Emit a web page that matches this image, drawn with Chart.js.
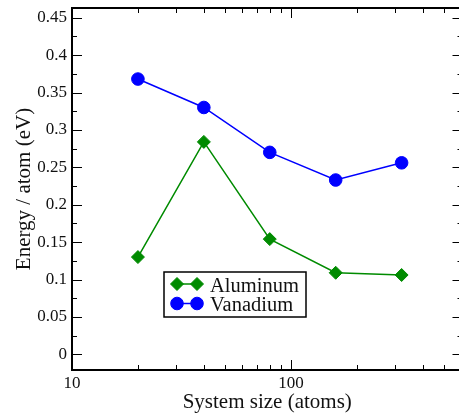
<!DOCTYPE html>
<html>
<head>
<meta charset="utf-8">
<script src="https://cdn.jsdelivr.net/npm/chart.js@4.4.0/dist/chart.umd.min.js"></script>
<style>
  html, body { margin: 0; padding: 0; background: #fff; overflow: hidden; }
  canvas { display: block; }
</style>
</head>
<body>
<canvas id="energyChart" width="470" height="414" style="width:470px;height:414px"></canvas>
<script>
// System size (atoms) vs energy per atom (eV)
const systemSizes = [20, 40, 80, 160, 320];
const aluminumEnergy = [0.130, 0.284, 0.154, 0.109, 0.106];
const vanadiumEnergy = [0.368, 0.330, 0.270, 0.233, 0.256];

const yTickValues = [0, 0.05, 0.1, 0.15, 0.2, 0.25, 0.3, 0.35, 0.4, 0.45];
const yMinorTicks = [0.025, 0.075, 0.125, 0.175, 0.225, 0.275, 0.325, 0.375, 0.425];
const xTickValues = [10, 100];
const xMinorTicks = [20, 30, 40, 50, 60, 70, 80, 90, 200, 300, 400, 500, 600];

const serif = '"Liberation Serif", "Times New Roman", serif';
const toPoints = (xs, ys) => xs.map((x, i) => ({ x: x, y: ys[i] }));

// frame around the plot with inward ticks on all four sides
const frameTicks = {
  id: 'frameTicks',
  beforeDatasetsDraw(chart) {
    const { ctx, chartArea: a, scales: { x, y } } = chart;
    ctx.save();
    ctx.strokeStyle = '#000';
    ctx.lineWidth = 1;
    ctx.beginPath();
    const tickX = (v, len) => {
      const px = Math.round(x.getPixelForValue(v)) + 0.5;
      ctx.moveTo(px, a.bottom); ctx.lineTo(px, a.bottom - len);
      ctx.moveTo(px, a.top); ctx.lineTo(px, a.top + len);
    };
    const tickY = (v, len) => {
      const py = Math.round(y.getPixelForValue(v)) + 0.5;
      ctx.moveTo(a.left, py); ctx.lineTo(a.left + len, py);
      ctx.moveTo(a.right, py); ctx.lineTo(a.right - len, py);
    };
    xTickValues.forEach(v => tickX(v, 10));
    xMinorTicks.forEach(v => tickX(v, 5));
    yTickValues.forEach(v => tickY(v, 10));
    yMinorTicks.forEach(v => tickY(v, 5));
    ctx.stroke();
    ctx.lineWidth = 2;
    ctx.strokeRect(a.left, a.top, a.right - a.left, a.bottom - a.top);
    ctx.restore();
  }
};

// boxed legend inside the plot, lower left
const boxLegend = {
  id: 'boxLegend',
  afterDatasetsDraw(chart) {
    const { ctx } = chart;
    const box = { left: 164, top: 272, width: 142, height: 45 };
    ctx.save();
    ctx.fillStyle = '#fff';
    ctx.fillRect(box.left, box.top, box.width, box.height);
    ctx.strokeStyle = '#000';
    ctx.lineWidth = 1.5;
    ctx.strokeRect(box.left, box.top, box.width, box.height);
    ctx.font = '20.5px ' + serif;
    ctx.textBaseline = 'alphabetic';
    chart.data.datasets.forEach((ds, i) => {
      const cy = 284 + i * 19.5;
      ctx.strokeStyle = ds.borderColor;
      ctx.lineWidth = ds.borderWidth;
      ctx.beginPath();
      ctx.moveTo(177, cy); ctx.lineTo(197, cy);
      ctx.stroke();
      [177, 197].forEach(px => {
        ctx.fillStyle = ds.pointBackgroundColor;
        ctx.strokeStyle = ds.pointBorderColor;
        ctx.lineWidth = ds.pointBorderWidth;
        Chart.helpers.drawPoint(ctx, {
          pointStyle: ds.pointStyle, radius: ds.pointRadius,
          borderWidth: ds.pointBorderWidth, rotation: 0
        }, px, cy);
      });
      ctx.fillStyle = '#111';
      ctx.fillText(ds.label, 210, cy + 7.5);
    });
    ctx.restore();
  }
};

new Chart(document.getElementById('energyChart'), {
  type: 'line',
  data: {
    datasets: [{
      label: 'Aluminum',
      data: toPoints(systemSizes, aluminumEnergy),
      borderColor: '#008b00',
      backgroundColor: '#008b00',
      pointBackgroundColor: '#008b00',
      pointBorderColor: '#008b00',
      pointStyle: 'rectRot',
      pointRadius: 6.5,
      pointBorderWidth: 1,
      borderWidth: 1.5,
      tension: 0,
      fill: false
    }, {
      label: 'Vanadium',
      data: toPoints(systemSizes, vanadiumEnergy),
      borderColor: '#0000ff',
      backgroundColor: '#0000ff',
      pointBackgroundColor: '#0000ff',
      pointBorderColor: '#0000ff',
      pointStyle: 'circle',
      pointRadius: 6.3,
      pointBorderWidth: 1,
      borderWidth: 1.5,
      tension: 0,
      fill: false
    }]
  },
  options: {
    responsive: false,
    animation: false,
    layout: { padding: { top: 8, right: 7, left: 0, bottom: 0 } },
    plugins: {
      legend: { display: false },
      tooltip: { enabled: false }
    },
    scales: {
      x: {
        type: 'logarithmic',
        min: 10,
        max: 607,
        grid: { display: false, drawTicks: false },
        border: { display: false },
        afterBuildTicks: scale => { scale.ticks = xTickValues.map(v => ({ value: v })); },
        afterFit: scale => {
          scale.height = 44;
          scale.paddingLeft = 0; scale.paddingRight = 0;
        },
        ticks: {
          autoSkip: false, maxRotation: 0, padding: 3.5,
          color: '#111',
          font: { family: serif, size: 17 },
          callback: v => String(v)
        },
        title: {
          display: true,
          text: 'System size (atoms)',
          color: '#111',
          font: { family: serif, size: 21, lineHeight: 1 },
          padding: { top: 0, bottom: 1.5 }
        }
      },
      y: {
        min: -0.021,
        max: 0.463,
        grid: { display: false, drawTicks: false },
        border: { display: false },
        afterBuildTicks: scale => { scale.ticks = yTickValues.map(v => ({ value: v })); },
        afterFit: scale => {
          scale.width = 72;
          scale.paddingTop = 0; scale.paddingBottom = 0;
        },
        ticks: {
          autoSkip: false, padding: 5,
          color: '#111',
          font: { family: serif, size: 17 },
          callback: v => String(v)
        },
        title: {
          display: true,
          text: 'Energy / atom (eV)',
          color: '#111',
          font: { family: serif, size: 21, lineHeight: 1 },
          padding: { top: 14, bottom: 0 }
        }
      }
    }
  },
  plugins: [frameTicks, boxLegend]
});
</script>
</body>
</html>
